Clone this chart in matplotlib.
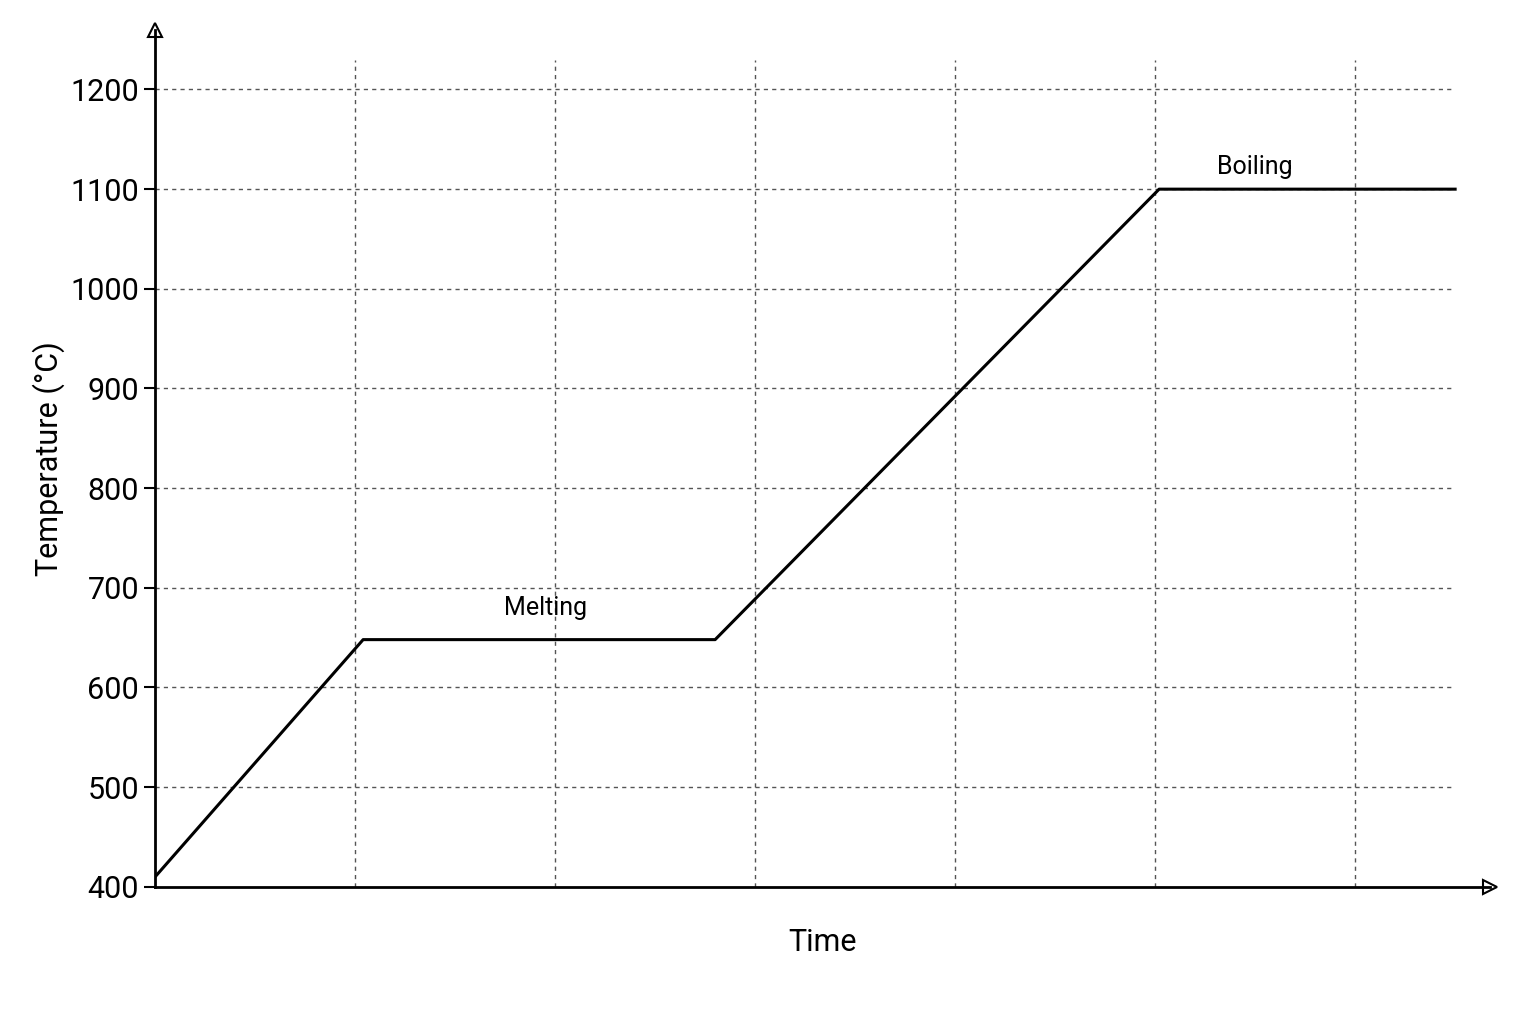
import matplotlib.pyplot as plt

time = [0, 1.04, 2.8, 5.02, 6.5]
temp = [410, 648, 648, 1100, 1100]
yticks = [400, 500, 600, 700, 800, 900, 1000, 1100, 1200]
xgrid = [1, 2, 3, 4, 5, 6]

plt.rcParams['font.family'] = ['Roboto', 'DejaVu Sans']
fig = plt.figure(figsize=(15.36, 10.24), dpi=100)
ax = fig.add_axes([0.101, 0.134, (1490-155)/1536, 0.837])
ax.set_xlim(0, 6.675)
ax.set_ylim(400, 1260)
for s in ['top', 'right']:
    ax.spines[s].set_visible(False)
for s in ['left', 'bottom']:
    ax.spines[s].set_linewidth(2)
ax.plot(1, 0, '>', transform=ax.transAxes, clip_on=False, ms=10, mfc='white', mec='black', mew=1.5)
ax.plot(0, 1, '^', transform=ax.transAxes, clip_on=False, ms=10, mfc='white', mec='black', mew=1.5)
for y in yticks[1:]:
    ax.plot([0, 6.5], [y, y], ls='--', color='#555555', lw=1, dashes=(3, 3))
for x in xgrid:
    ax.plot([x, x], [400, 1230], ls='--', color='#555555', lw=1, dashes=(3, 3))
ax.plot(time, temp, color='black', lw=2.2)
ax.set_yticks(yticks)
ax.set_xticks([])
ax.tick_params(axis='y', labelsize=22, length=8, width=1.5)
ax.set_ylabel('Temperature (°C)', fontsize=22)
ax.set_xlabel('Time', fontsize=22, labelpad=30)
ax.text(1.95, 668, 'Melting', fontsize=18, ha='center', va='bottom')
ax.text(5.5, 1110, 'Boiling', fontsize=18, ha='center', va='bottom')
fig.savefig('out.png')
